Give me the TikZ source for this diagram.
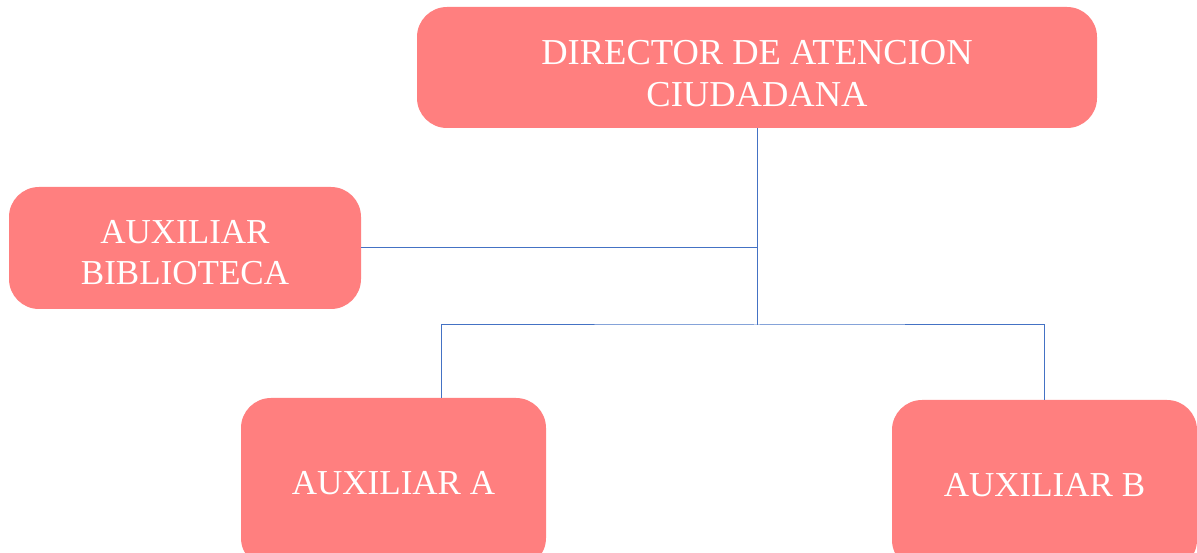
\documentclass[tikz,border=0pt]{standalone}
\usepackage{fontspec}
\setmainfont{Liberation Serif}
\usepackage{tikz}
\definecolor{boxred}{HTML}{FF7F7F}
\definecolor{linkblue}{HTML}{4472C4}
\begin{document}
\begin{tikzpicture}[x=1pt,y=1pt,
  puesto/.style={draw=none,fill=boxred,rounded corners=30pt,text=white,
    align=center,inner sep=0pt,font=\fontsize{35}{41}\selectfont},
  link/.style={draw=linkblue,line width=1pt}]
\useasboundingbox (0,0) rectangle (1197,552);
%boxes
\node[puesto,minimum width=680,minimum height=121,font=\fontsize{36.5}{42}\selectfont] (dir) at (757,484.5)
  {\rule{0pt}{37pt}DIRECTOR DE ATENCION\\CIUDADANA};
\node[puesto,minimum width=352,minimum height=122] (bib) at (185,304) {\rule{0pt}{33pt}AUXILIAR\\BIBLIOTECA};
\node[puesto,minimum width=305,minimum height=170] (axa) at (393.5,69) {AUXILIAR A};
\node[puesto,minimum width=305,minimum height=170] (axb) at (1044.5,67) {AUXILIAR B};
%connectors
\coordinate (hub) at (757,227);
\draw[link] (dir.south) -- (hub);
\draw[link] (bib.east) -- (bib.east -| dir.south);
\draw[link] ([xshift=47.5]axa.north) |- (hub) -| (axb.north);
\end{tikzpicture}
\end{document}
